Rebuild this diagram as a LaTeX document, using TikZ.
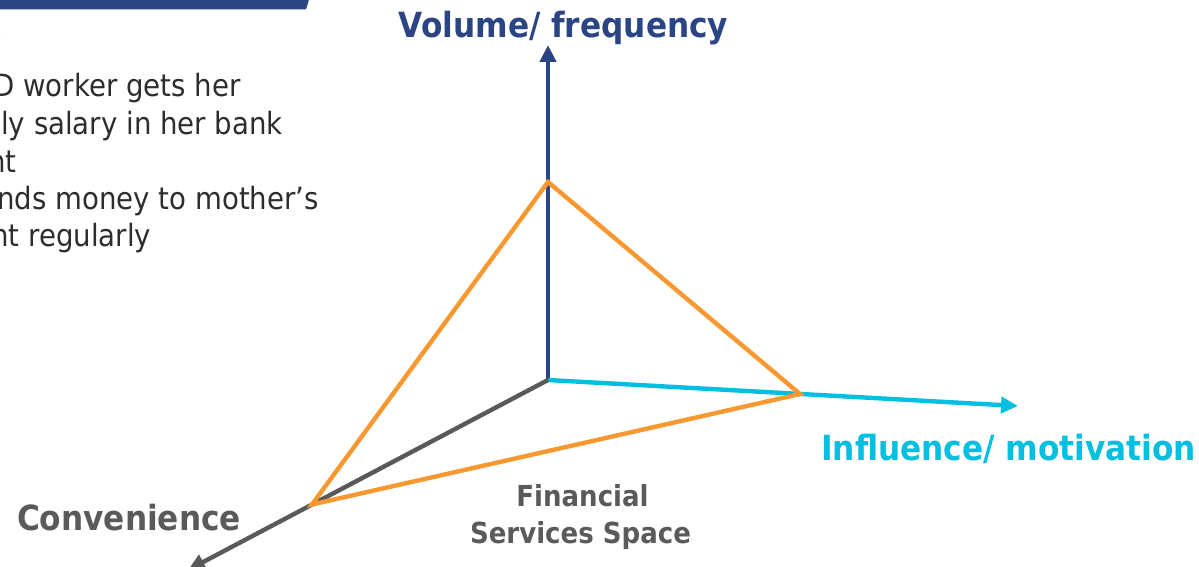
\documentclass[tikz,border=0pt]{standalone}
\usepackage{fontspec}
\setmainfont{DejaVu Sans}[FakeStretch=0.9]
\usetikzlibrary{arrows.meta}
\definecolor{navy}{RGB}{43,69,132}
\definecolor{cyanax}{RGB}{0,191,224}
\definecolor{grayax}{RGB}{89,89,89}
\definecolor{orangetri}{RGB}{247,152,48}
\definecolor{bodytext}{RGB}{45,45,45}
\definecolor{labelgray}{RGB}{90,90,90}
\tikzset{
  axis/.style={line width=3.3pt, -{Triangle[length=12.75pt,width=12pt]}},
  tri/.style={line width=3.3pt, orangetri, line join=miter},
  biglabel/.style={font=\bfseries\fontsize{26}{30}\selectfont, inner sep=0pt, anchor=base},
  midlabel/.style={font=\bfseries\fontsize{21.7}{27}\selectfont, inner sep=0pt, anchor=base, text=labelgray},
  bodyline/.style={font=\fontsize{23}{28}\selectfont, inner sep=0pt, anchor=base west, text=bodytext}
}
\begin{document}
\begin{tikzpicture}[x=0.75pt,y=-0.75pt]
\useasboundingbox (0,0) rectangle (1199,567);
\clip (0,0) rectangle (1199,567);
% banner
\fill[navy] (0,-2) -- (309.5,-2) -- (306,9.5) -- (0,9.5) -- cycle;
% left text fragments
\node[bodyline, text=bodytext!50] (t0) at (-6,51) {:};
\node[bodyline] (t1) at (-7,96) {D worker gets her};
\node[bodyline] (t2) at (1,134) {ly salary in her bank};
\node[bodyline] (t3) at (-12,172) {nt};
\node[bodyline] (t4) at (-3,209) {nds money to mother’s};
\node[bodyline] (t5) at (-9,246) {nt regularly};
% axes
\coordinate (O) at (548,380);
\coordinate (Vtip) at (548,45);
\coordinate (Itip) at (1018,406);
\coordinate (Ctip) at (188,570);
\draw[axis, navy] (O) -- (Vtip);
\draw[axis, cyanax] (O) -- (Itip);
\draw[axis, grayax] (O) -- (Ctip);
% triangle
\coordinate (A) at (548,182);
\coordinate (B) at (800,394);
\coordinate (C) at (312,504.5);
\draw[tri] (A) -- (B) -- (C) -- cycle;
% labels
\node[biglabel, text=navy] (lv) at (563.5,38) {Volume/ frequency};
\node[biglabel, text=cyanax] (li) at (1008.5,460) {Influence/ motivation};
\node[biglabel, text=labelgray] (lc) at (129,530) {Convenience};
\node[midlabel] (lf1) at (582.5,506) {Financial};
\node[midlabel] (lf2) at (580.5,543) {Services Space};
\end{tikzpicture}
\end{document}
